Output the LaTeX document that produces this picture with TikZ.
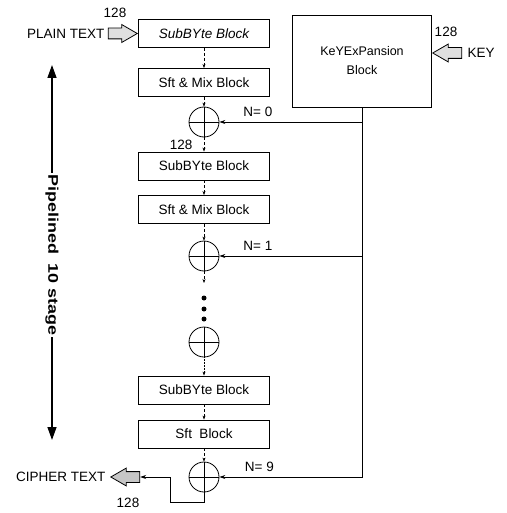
\documentclass[tikz,border=0pt]{standalone}
\usepackage{fontspec}
\setmainfont{Liberation Sans}
\usepackage{tikz}
\usetikzlibrary{shapes, shapes.arrows, arrows.meta, positioning}
\tikzset{
  blk/.style={draw, line width=0.9pt, minimum width=131pt, minimum height=28pt, inner sep=0pt, font=\fontsize{13.5}{15}\selectfont},
  xorc/.style={circle, draw, line width=0.8pt, minimum size=30pt, inner sep=0pt,
    path picture={\draw[line width=0.8pt] (path picture bounding box.north) -- (path picture bounding box.south)
      (path picture bounding box.west) -- (path picture bounding box.east);}},
  blockarrow/.style={single arrow, draw, line width=0.8pt, fill=gray!25, minimum height=29pt,
    inner xsep=0pt, inner ysep=5pt, single arrow head extend=3.5pt, single arrow tip angle=60},
  flow/.style={densely dashed, line width=0.5pt, -{Stealth[length=4pt,width=3pt]}},
  feed/.style={line width=0.7pt, -{Stealth[length=6pt,width=4pt]}},
  lbl/.style={font=\fontsize{13.5}{15}\selectfont},
  dotc/.style={circle, fill, inner sep=0pt, minimum size=5pt}
}
\begin{document}
\begin{tikzpicture}[x=1pt, y=-1pt]
  \useasboundingbox (0,0) rectangle (506,513);
  % main column
  \node[blk] (sub1) at (204,33.5) {\itshape SubBYte Block};
  \node[blk] (mix1) at (204,82.5) {Sft \& Mix Block};
  \node[xorc] (x1) at (204,122) {};
  \node[blk] (sub2) at (204,166) {SubBYte Block};
  \node[blk] (mix2) at (204,209.5) {Sft \& Mix Block};
  \node[xorc] (x2) at (204,256) {};
  \coordinate (gap) at (204,283);
  \foreach \y/\n in {298/d1, 309/d2, 319/d3} {\node[dotc] (\n) at (204,\y) {};}
  \node[xorc] (x3) at (204,342) {};
  \node[blk] (sub3) at (204,390) {SubBYte Block};
  \node[blk] (sft) at (204,434) {Sft\ \ Block};
  \node[xorc] (x4) at (204,477) {};
  % key expansion
  \node[draw, line width=0.9pt, minimum width=139pt, minimum height=92pt, align=center,
    font=\fontsize{12.5}{19}\selectfont] (key) at (362,61) {KeYExPansion\\Block};
  \node[blockarrow, shape border rotate=180, anchor=tip] (keyarr) at ([yshift=8pt]key.east) {};
  \node[lbl, right=2pt of keyarr] (keytxt) {KEY};
  \node[lbl] (keybits) at (446,32) {128};
  % plain and cipher text
  \node[blockarrow, anchor=tip] (plainarr) at (sub1.west) {};
  \node[lbl, left=0pt of plainarr] (plaintxt) {PLAIN TEXT};
  \node[lbl] (plainbits) at (115,13) {128};
  \node[blockarrow, fill=gray!45, shape border rotate=180, anchor=tip] (cipherarr) at (110,477) {};
  \node[lbl, left=1pt of cipherarr] (ciphertxt) {CIPHER TEXT};
  \node[lbl] (cipherbits) at (128,503) {128};
  \coordinate (bend) at (170,502);
  % data flow
  \draw[flow] (sub1) -- (mix1);
  \draw[flow] (mix1) -- (x1);
  \draw[flow] (x1) -- (sub2) node[pos=0.55, left=8pt, lbl] (bits2) {128};
  \draw[flow] (sub2) -- (mix2);
  \draw[flow] (mix2) -- (x2);
  \draw[flow] (x2) -- (gap);
  \draw[densely dotted, line width=0.5pt, -{Stealth[length=4pt,width=3pt]}] (x3) -- (sub3);
  \draw[flow] (sub3) -- (sft);
  \draw[flow] (sft) -- (x4);
  \draw[feed] (x4.south) |- (bend) |- (cipherarr.tail);
  % round keys
  \draw[feed] (key.south) |- (x4.east) node[pos=0.86, above=2pt, lbl] (n9) {N= 9};
  \draw[feed] (key.south |- x1) -- (x1.east) node[pos=0.73, above=2pt, lbl] (n0) {N= 0};
  \draw[feed] (key.south |- x2) -- (x2.east) node[pos=0.73, above=2pt, lbl] (n1) {N= 1};
  % pipeline span
  \coordinate (ptop) at (52,65);
  \coordinate (pbot) at (52,440);
  \draw[line width=1.4pt, {Triangle[length=13pt,width=9pt]}-{Triangle[length=13pt,width=9pt]}] (ptop) -- (pbot);
  \node[fill=white, rotate=-90, inner sep=1pt, font=\bfseries\fontsize{14}{16}\selectfont] (pipe) at (52,255)
    {\scalebox{1.28}[1]{Pipelined\ \ 10 stage}};
\end{tikzpicture}
\end{document}
